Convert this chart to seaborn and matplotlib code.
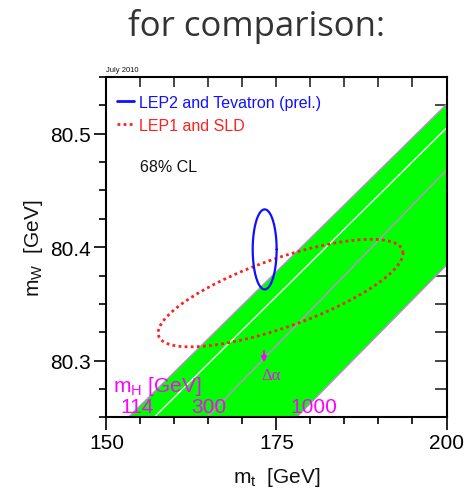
import numpy as np
import pandas as pd
import matplotlib
matplotlib.use('Agg')
import matplotlib.pyplot as plt
import seaborn as sns
from matplotlib.lines import Line2D
from matplotlib.ticker import MultipleLocator

sns.set_theme(style='ticks')
plt.rcParams['font.family'] = ['Liberation Sans', 'DejaVu Sans']
plt.rcParams['mathtext.fontset'] = 'custom'
plt.rcParams['mathtext.rm'] = 'Liberation Sans'
plt.rcParams['mathtext.it'] = 'Liberation Sans:italic'
plt.rcParams['text.color'] = '#111111'
plt.rcParams['axes.labelcolor'] = '#111111'

# Data
mt_lim = [150, 200]
mw_lim = [80.25, 80.55]

# SM band, mH = 114 (upper edge) ... 1000 GeV (lower edge)
band_upper_mt = [153.2, 200.0]
band_upper_mw = [80.25, 80.526]
band_lower_mt = [177.97, 200.0]
band_lower_mw = [80.25, 80.384]
# lines inside the band
white_mt = [157.0, 200.0]
white_mw = [80.25, 80.505]
gray_mt = [164.8, 200.0]
gray_mw = [80.25, 80.468]

# 68% CL contours: centre, half widths, correlation
lep2_center = [173.26, 80.398]
lep2_width = [1.76, 0.0353]
lep2_rho = 0.0
lep1_center = [175.6, 80.3595]
lep1_width = [18.0, 0.0474]
lep1_rho = 0.74

mh_values = ['114', '300', '1000']


def ellipse(center, width, rho, n=300):
    t = np.linspace(0, 2 * np.pi, n)
    x = center[0] + width[0] * np.cos(t)
    y = center[1] + width[1] * (rho * np.cos(t) + np.sqrt(1 - rho ** 2) * np.sin(t))
    return pd.DataFrame({'mt': x, 'mw': y})


fig = plt.figure(figsize=(4.75, 4.89), dpi=100)
ax = fig.add_axes([0.2242, 0.1446, 0.7158, 0.6959])

# green band
ax.fill(band_upper_mt + band_lower_mt[::-1], band_upper_mw + band_lower_mw[::-1],
        color='#00ff00', lw=0, zorder=1)
for xs, ys in [(band_upper_mt, band_upper_mw), (band_lower_mt, band_lower_mw)]:
    sns.lineplot(x=xs, y=ys, color='#d27ee6', lw=0.9, ax=ax, zorder=2)
sns.lineplot(x=white_mt, y=white_mw, color='white', lw=1.0, ax=ax, zorder=2)
sns.lineplot(x=gray_mt, y=gray_mw, color='#b596c4', lw=1.1, ax=ax, zorder=2)

# contours
lep1 = ellipse(lep1_center, lep1_width, lep1_rho)
lep2 = ellipse(lep2_center, lep2_width, lep2_rho)
sns.lineplot(data=lep1, x='mt', y='mw', sort=False, estimator=None, color='#ff2020',
             lw=2.0, linestyle=(0, (1, 1.2)), ax=ax, zorder=3)
sns.lineplot(data=lep2, x='mt', y='mw', sort=False, estimator=None, color='#1010ff',
             lw=1.6, ax=ax, zorder=4)

# mH labels
mag = '#ff00ff'
ax.text(150.9, 80.2735, r'm$_\mathregular{H}$ [GeV]', color=mag, fontsize=15, va='baseline')
for lab, x in zip(mh_values, [152.0, 162.5, 177.0]):
    ax.text(x, 80.2549, lab, color=mag, fontsize=15, va='baseline')
ax.annotate('', xy=(173.16, 80.296), xytext=(173.16, 80.311),
            arrowprops=dict(arrowstyle='-|>', color=mag, lw=1.3, mutation_scale=8))
ax.text(174.2, 80.2875, 'Δα', color=mag, fontsize=12, ha='center', va='center',
        family=['Liberation Serif', 'DejaVu Serif'])

# legend
handles = [Line2D([], [], color='#1010ff', lw=2),
           Line2D([], [], color='#ff2020', lw=2, linestyle=(0, (1, 1.2)))]
ax.legend(handles, ['LEP2 and Tevatron (prel.)', 'LEP1 and SLD'], loc='upper left',
          bbox_to_anchor=(0.031, 0.947), borderaxespad=0, borderpad=0, frameon=False,
          handlelength=1.05, handletextpad=0.3, labelspacing=0.5, fontsize=11.5,
          labelcolor=['#1010ff', '#ff2020'])
ax.text(0.098, 0.738, '68% CL', transform=ax.transAxes, fontsize=11.5, va='center')

ax.set_xlim(mt_lim)
ax.set_ylim(mw_lim)
ax.xaxis.set_major_locator(MultipleLocator(25))
ax.xaxis.set_minor_locator(MultipleLocator(5))
ax.yaxis.set_major_locator(MultipleLocator(0.1))
ax.yaxis.set_minor_locator(MultipleLocator(0.025))
ax.tick_params(which='both', direction='out', width=1.2, colors='black', labelsize=15, pad=2)
ax.tick_params(which='major', length=9)
ax.tick_params(which='minor', length=5)
for s in ax.spines.values():
    s.set_visible(True)
    s.set_linewidth(1.5)
    s.set_color('black')

# inward ticks on top and right
top = ax.secondary_xaxis('top')
top.xaxis.set_major_locator(MultipleLocator(25))
top.xaxis.set_minor_locator(MultipleLocator(5))
top.tick_params(which='both', direction='in', labeltop=False, width=1.2, length=7)
right = ax.secondary_yaxis('right')
right.yaxis.set_major_locator(MultipleLocator(0.1))
right.yaxis.set_minor_locator(MultipleLocator(0.025))
right.tick_params(which='both', direction='in', labelright=False, width=1.2, length=9)

ax.set_xlabel(r'm$_\mathregular{t}$  [GeV]', fontsize=15, labelpad=10)
ax.set_ylabel(r'm$_\mathregular{W}$  [GeV]', fontsize=15, labelpad=4)

fig.text(0.224, 0.849, 'July 2010', fontsize=5.5, va='bottom')
fig.text(0.539, 0.945, 'for comparison:', fontsize=25, ha='center', va='center',
         color='#333333', family=['Open Sans', 'DejaVu Sans'])

fig.savefig('out.png', dpi=100)
